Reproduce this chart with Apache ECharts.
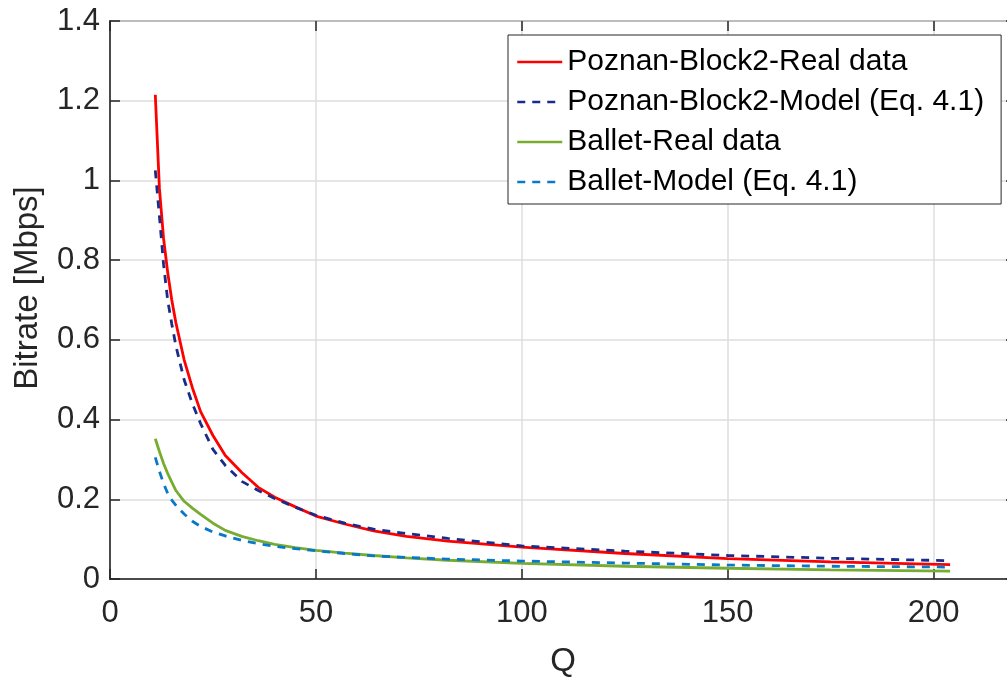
<!DOCTYPE html>
<html>
<head>
<meta charset="utf-8">
<script src="https://cdn.jsdelivr.net/npm/echarts@6/dist/echarts.min.js"></script>
<style>html,body{margin:0;padding:0;background:#fff}#c{width:1007px;height:677px}</style>
</head>
<body>
<div id="c"></div>
<script>
var qValues = [11, 12, 13, 14, 15, 16, 18, 20, 22, 25, 28, 32, 36, 40, 45, 50, 57, 64, 72, 82, 100, 125, 150, 175, 204];
var poznanReal = [1.215, 0.98, 0.855, 0.77, 0.70, 0.643, 0.55, 0.48, 0.42, 0.36, 0.31, 0.267, 0.23, 0.205, 0.181, 0.158, 0.138, 0.121, 0.107, 0.095, 0.080, 0.064, 0.051, 0.043, 0.036];
var poznanModel = [1.025, 0.91, 0.79, 0.70, 0.64, 0.585, 0.50, 0.44, 0.39, 0.325, 0.285, 0.245, 0.222, 0.202, 0.180, 0.160, 0.140, 0.125, 0.114, 0.102, 0.083, 0.070, 0.059, 0.052, 0.046];
var balletReal = [0.352, 0.32, 0.29, 0.265, 0.243, 0.222, 0.195, 0.178, 0.162, 0.140, 0.122, 0.107, 0.096, 0.087, 0.079, 0.072, 0.065, 0.059, 0.053, 0.047, 0.039, 0.032, 0.027, 0.023, 0.020];
var balletModel = [0.305, 0.27, 0.24, 0.215, 0.198, 0.185, 0.163, 0.145, 0.132, 0.118, 0.108, 0.097, 0.089, 0.082, 0.076, 0.071, 0.064, 0.058, 0.054, 0.050, 0.045, 0.040, 0.035, 0.032, 0.030];
var seriesNames = ['Poznan-Block2-Real data', 'Poznan-Block2-Model (Eq. 4.1)', 'Ballet-Real data', 'Ballet-Model (Eq. 4.1)'];

function pairs(vals) { return qValues.map(function (q, i) { return [q, vals[i]]; }); }

var FONT = '"Liberation Sans", Arial, Helvetica, sans-serif';
var AX = '#262626';
var TICK = { show: true, inside: true, length: 10, lineStyle: { color: AX, width: 1.5 } };
var chart = echarts.init(document.getElementById('c'));
chart.setOption({
  animation: false,
  backgroundColor: '#fff',
  textStyle: { fontFamily: FONT },
  grid: { left: 110, top: 21, width: 906, height: 558, containLabel: false, outerBoundsMode: 'none', show: true, borderColor: AX, borderWidth: 1.5, backgroundColor: 'transparent' },
  xAxis: [{
    type: 'value', min: 0, max: 220, interval: 50, position: 'bottom',
    name: 'Q', nameLocation: 'middle', nameGap: 66,
    nameTextStyle: { fontSize: 33, color: AX, fontFamily: FONT },
    axisLine: { show: true, onZero: false, lineStyle: { color: AX, width: 1.5 } },
    axisTick: TICK,
    axisLabel: { fontSize: 31, color: AX, margin: 19, showMaxLabel: false, fontFamily: FONT },
    splitLine: { show: true, lineStyle: { color: '#dedede', width: 1.5 } }
  }, {
    type: 'value', min: 0, max: 220, interval: 50, position: 'top',
    axisLine: { show: false, onZero: false },
    axisTick: TICK,
    axisLabel: { show: false },
    splitLine: { show: false }
  }],
  yAxis: [{
    type: 'value', min: 0, max: 1.4, interval: 0.2, position: 'left',
    name: 'Bitrate [Mbps]', nameLocation: 'middle', nameGap: 66,
    nameTextStyle: { fontSize: 33, color: AX, fontFamily: FONT, padding: [0, 0, 0, 24] },
    axisLine: { show: true, onZero: false, lineStyle: { color: AX, width: 1.5 } },
    axisTick: TICK,
    axisLabel: { fontSize: 31, color: AX, margin: 10, fontFamily: FONT },
    splitLine: { show: true, lineStyle: { color: '#dedede', width: 1.5 } }
  }, {
    type: 'value', min: 0, max: 1.4, interval: 0.2, position: 'right',
    axisLine: { show: false, onZero: false },
    axisTick: TICK,
    axisLabel: { show: false },
    splitLine: { show: false }
  }],
  legend: {
    orient: 'vertical', left: 508, top: 35,
    backgroundColor: '#fff', borderColor: AX, borderWidth: 1,
    padding: [12, 17, 7, 8], itemGap: 10, itemWidth: 45, itemHeight: 2, itemTextGap: 4,
    itemStyle: { color: 'rgba(0,0,0,0)', borderWidth: 0 },
    lineStyle: { width: 2.5 },
    textStyle: { fontSize: 30, color: '#000', lineHeight: 30, fontFamily: FONT },
    data: seriesNames
  },
  series: [
    { name: seriesNames[0], type: 'line', data: pairs(poznanReal), showSymbol: false, symbol: 'none', lineStyle: { color: '#ff0000', width: 2.8 }, itemStyle: { color: '#ff0000' }, z: 3 },
    { name: seriesNames[1], type: 'line', data: pairs(poznanModel), showSymbol: false, symbol: 'none', lineStyle: { color: '#182c8a', width: 2.8, type: [8, 7] }, itemStyle: { color: '#182c8a' }, z: 4 },
    { name: seriesNames[2], type: 'line', data: pairs(balletReal), showSymbol: false, symbol: 'none', lineStyle: { color: '#77ac30', width: 2.8 }, itemStyle: { color: '#77ac30' }, z: 3 },
    { name: seriesNames[3], type: 'line', data: pairs(balletModel), showSymbol: false, symbol: 'none', lineStyle: { color: '#0a78c8', width: 2.8, type: [8, 7] }, itemStyle: { color: '#0a78c8' }, z: 4 }
  ]
});
</script>
</body>
</html>
